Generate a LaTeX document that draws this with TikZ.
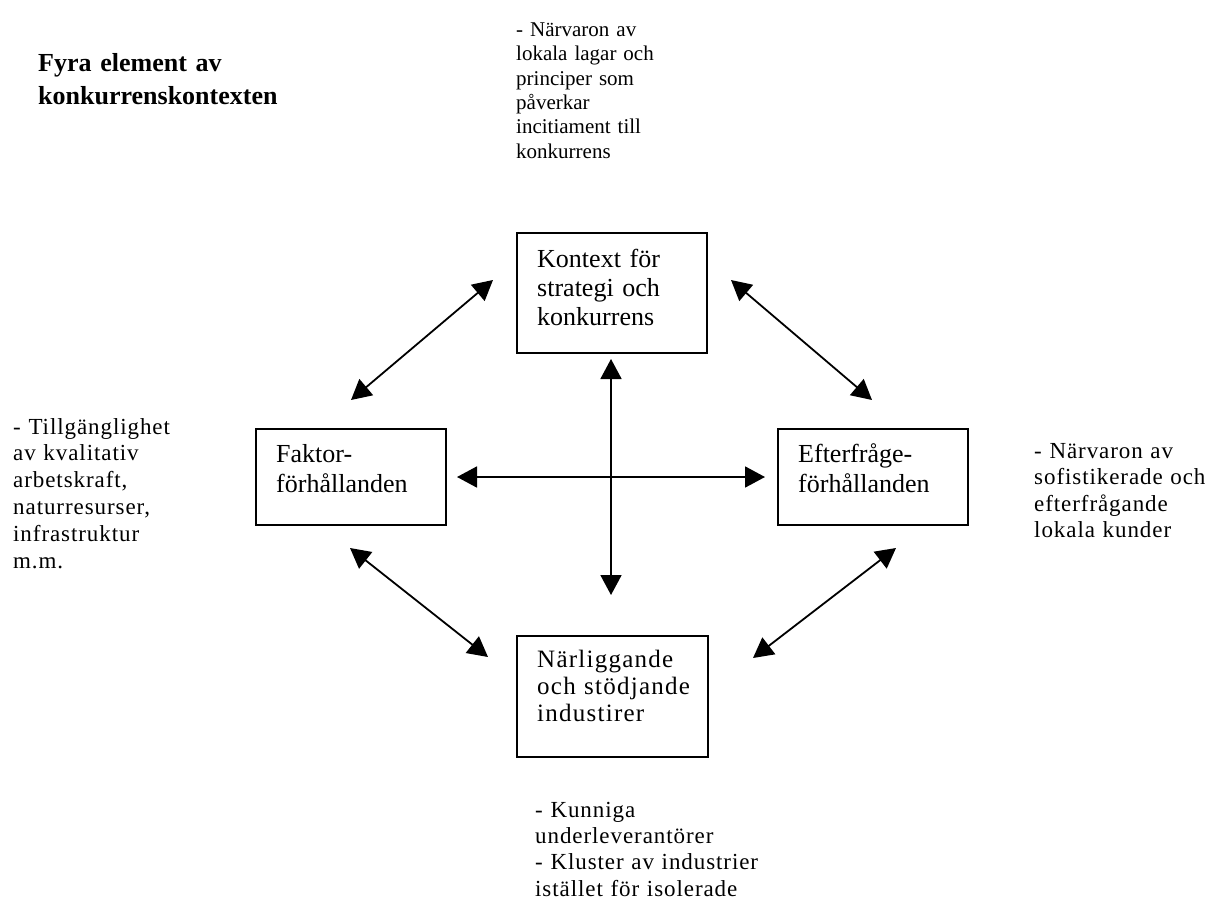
\documentclass[tikz,border=0pt]{standalone}
\usepackage{fontspec}
\setmainfont{Liberation Serif}
\newfontfamily\topnote{Liberation Serif}
\newfontfamily\sidenote[LetterSpace=4]{Liberation Serif}
\newfontfamily\basenote[LetterSpace=5]{Liberation Serif}
\usetikzlibrary{arrows.meta}

\begin{document}
\begin{tikzpicture}[x=1pt,y=-1pt,
  box/.style={draw, line width=1.8pt, minimum width=190pt, inner sep=0pt, anchor=north west},
  txt/.style={anchor=base west, inner sep=0pt, text width=400pt, align=left},
  boxtext/.style={txt, font=\fontsize{26}{29}\selectfont},
  conn/.style={line width=1.8pt, {Triangle[length=20pt,width=21pt]}-{Triangle[length=20pt,width=21pt]}}
]
\useasboundingbox (0,0) rectangle (1214,899);

% title
\node[txt, font=\bfseries\fontsize{26}{33}\selectfont] (title) at (38,71)
  {Fyra element av\\konkurrenskontexten};

% the four determinants
\node[box, minimum height=120pt] (ctx) at (516,232) {};
\node[boxtext] (ctxt) at (537,267) {Kontext för\\strategi och\\konkurrens};

\node[box, minimum height=96pt] (fak) at (255,428) {};
\node[boxtext, font=\fontsize{26}{30}\selectfont] (fakt) at (276,462) {Faktor-\\förhållanden};

\node[box, minimum height=96pt] (eft) at (777,428) {};
\node[boxtext, font=\fontsize{26}{30}\selectfont] (eftt) at (798,462) {Efterfråge-\\förhållanden};

\node[box, minimum height=121pt, minimum width=191pt] (ind) at (516,635) {};
\node[boxtext, font=\basenote\fontsize{25}{27}\selectfont] (indt) at (537,667) {Närliggande\\och stödjande\\industirer};

% notes beside each box
\node[txt, font=\topnote\fontsize{21}{24.3}\selectfont] (ctxn) at (516,36.6)
  {- Närvaron av\\lokala lagar och\\principer som\\påverkar\\incitiament till\\konkurrens};
\node[txt, font=\sidenote\fontsize{23}{26.8}\selectfont] (fakn) at (13,434)
  {- Tillgänglighet\\av kvalitativ\\arbetskraft,\\naturresurser,\\infrastruktur\\m.m.};
\node[txt, font=\sidenote\fontsize{23}{26.5}\selectfont] (eftn) at (1034,458)
  {- Närvaron av\\sofistikerade och\\efterfrågande\\lokala kunder};
\node[txt, font=\sidenote\fontsize{23}{26.4}\selectfont] (indn) at (535,817)
  {- Kunniga\\underleverantörer\\- Kluster av industrier\\istället för isolerade};

% arrow ends
\coordinate (nwa) at (351,400); \coordinate (nwb) at (493,280);
\coordinate (nea) at (731,280); \coordinate (neb) at (872,400);
\coordinate (swa) at (350,548); \coordinate (swb) at (488,657);
\coordinate (sea) at (896,548); \coordinate (seb) at (753,658);
\coordinate (hl) at (457,477);  \coordinate (hr) at (765,477);
\coordinate (vt) at (611,359);  \coordinate (vb) at (611,595);

% connectors
\draw[conn] (nwa) -- (nwb);
\draw[conn] (nea) -- (neb);
\draw[conn] (swa) -- (swb);
\draw[conn] (sea) -- (seb);
\draw[conn] (hl) -- (hr);
\draw[conn] (vt) -- (vb);
\end{tikzpicture}
\end{document}
